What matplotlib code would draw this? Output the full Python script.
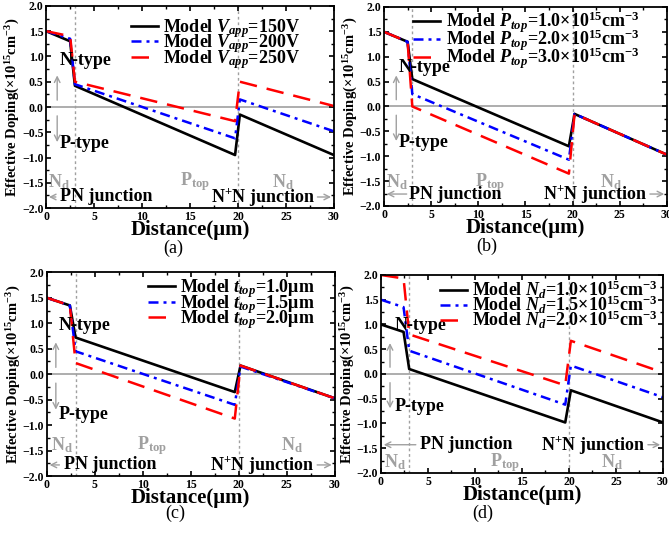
import matplotlib
matplotlib.use("Agg")
import matplotlib.pyplot as plt
from matplotlib.ticker import MultipleLocator

plt.rcParams['font.family'] = ['Liberation Serif', 'DejaVu Serif']
plt.rcParams['font.weight'] = 'bold'
plt.rcParams['axes.labelweight'] = 'bold'
plt.rcParams['mathtext.fontset'] = 'custom'
plt.rcParams['mathtext.rm'] = 'Liberation Serif:bold'
plt.rcParams['mathtext.it'] = 'Liberation Serif:bold:italic'
plt.rcParams['mathtext.bf'] = 'Liberation Serif:bold'

# distance breakpoints (um) and effective doping (x1e15 cm^-3)
dist_a = [0, 2.5, 3.0, 19.7, 20.2, 30]
vapp150 = [1.5, 1.3, 0.42, -0.95, -0.15, -0.95]
vapp200 = [1.5, 1.35, 0.45, -0.62, 0.15, -0.48]
vapp250 = [1.5, 1.4, 0.5, -0.28, 0.5, 0.02]

dist_b = [0, 2.5, 3.0, 19.6, 20.2, 30]
ptop10 = [1.5, 1.3, 0.55, -0.8, -0.15, -0.97]
ptop20 = [1.5, 1.3, 0.25, -1.07, -0.15, -0.97]
ptop30 = [1.5, 1.3, 0.0, -1.35, -0.15, -0.97]

dist_c = [0, 2.4, 3.0, 19.6, 20.2, 30]
ttop10 = [1.5, 1.35, 0.72, -0.35, 0.17, -0.47]
ttop15 = [1.5, 1.35, 0.45, -0.6, 0.15, -0.47]
ttop20 = [1.5, 1.35, 0.22, -0.87, 0.17, -0.47]

dist_d = [0, 2.4, 3.0, 19.6, 20.2, 30]
nd10 = [1.0, 0.85, 0.1, -0.98, -0.33, -0.98]
nd15 = [1.5, 1.35, 0.47, -0.62, 0.17, -0.47]
nd20 = [2.0, 1.93, 0.8, -0.23, 0.67, 0.03]

labels_a = [r'Model $V_{app}$=150V', r'Model $V_{app}$=200V', r'Model $V_{app}$=250V']
labels_b = [r'Model $P_{top}$=1.0×10$^{15}$cm$^{-3}$', r'Model $P_{top}$=2.0×10$^{15}$cm$^{-3}$',
            r'Model $P_{top}$=3.0×10$^{15}$cm$^{-3}$']
labels_c = [r'Model $t_{top}$=1.0μm', r'Model $t_{top}$=1.5μm', r'Model $t_{top}$=2.0μm']
labels_d = [r'Model $N_d$=1.0×10$^{15}$cm$^{-3}$', r'Model $N_d$=1.5×10$^{15}$cm$^{-3}$',
            r'Model $N_d$=2.0×10$^{15}$cm$^{-3}$']

gray = '#a0a0a0'
styles = [dict(color='black', ls='-', lw=1.9),
          dict(color='blue', ls=(0, (4, 2, 1.2, 2)), lw=1.8),
          dict(color='red', ls=(0, (7, 4)), lw=1.8)]

fig = plt.figure(figsize=(6.69, 5.35), dpi=100)


def panel(rect, x, ys, labels, cap, txt):
    ax = fig.add_axes(rect)
    for y, lab, st in zip(ys, labels, styles):
        ax.plot(x, y, label=lab, **st)
    ax.axhline(0, color=gray, lw=1.2, zorder=0)
    ax.axvline(3, color=gray, ls=(0, (2, 2)), lw=1, zorder=0)
    ax.axvline(20, color=gray, ls=(0, (2, 2)), lw=1, zorder=0)
    ax.set_xlim(0, 30)
    ax.set_ylim(-2, 2)
    ax.xaxis.set_major_locator(MultipleLocator(5))
    ax.xaxis.set_minor_locator(MultipleLocator(2.5))
    ax.yaxis.set_major_locator(MultipleLocator(0.5))
    ax.yaxis.set_minor_locator(MultipleLocator(0.25))
    ax.tick_params(which='both', direction='in', top=True, right=True, labelsize=8.5, pad=2)
    ax.tick_params(which='major', length=3.5, width=1.2)
    ax.tick_params(which='minor', length=2, width=1)
    for lbl in ax.get_xticklabels() + ax.get_yticklabels():
        lbl.set_fontweight('bold')
    for s in ax.spines.values():
        s.set_linewidth(1.3)
    ax.set_xlabel('Distance(μm)', fontsize=15, fontweight='bold', labelpad=-2)
    ax.set_ylabel(r'Effective Doping(×10$^{15}$cm$^{-3}$)', fontsize=10.5, fontweight='bold', labelpad=0)
    ax.legend(loc='upper right', bbox_to_anchor=txt['leg'], frameon=False,
              handlelength=1.5, labelspacing=-0.4, handletextpad=0.3, borderpad=0.1,
              prop=dict(size=13, weight='bold'))

    # type annotations
    nx, ny, px, py, axx = txt['type']
    ax.text(nx, ny, 'N-type', fontsize=13, va='center')
    ax.text(px, py, 'P-type', fontsize=13, va='center')
    ax.annotate('', xy=(axx, 0.68), xytext=(axx, 0.08),
                arrowprops=dict(arrowstyle='->', color=gray, lw=1))
    ax.annotate('', xy=(axx, -0.75), xytext=(axx, -0.12),
                arrowprops=dict(arrowstyle='->', color=gray, lw=1))

    # region labels
    for (tx, ty, s) in txt['regions']:
        ax.text(tx, ty, s, fontsize=13, color=gray, va='center')

    # junction labels with arrows
    pnx, pny, pna = txt['pn']
    ax.text(pnx, pny, 'PN junction', fontsize=13, va='center')
    ax.annotate('', xy=(0, pny), xytext=(pna, pny),
                arrowprops=dict(arrowstyle='->', color=gray, lw=1))
    nnx, nny, nna = txt['nn']
    ax.text(nnx, nny, r'N$^{+}$N junction', fontsize=13, va='center', ha='right')
    ax.annotate('', xy=(30, nny), xytext=(nna, nny),
                arrowprops=dict(arrowstyle='->', color=gray, lw=1))

    fig.text(cap[0] / 669, 1 - cap[1] / 535, cap[2], fontsize=13, fontweight='normal',
             ha='center', va='center')
    return ax


nd = r'N$_{\mathrm{d}}$'
pt = r'P$_{\mathrm{top}}$'

panel([0.069, 0.611, 0.430, 0.378], dist_a, [vapp150, vapp200, vapp250], labels_a,
      (173, 248, '(a)'),
      dict(leg=(0.92, 1.0),
           type=(1.4, 0.92, 1.4, -0.72, 1.15),
           regions=[(0.2, -1.48, nd), (14.0, -1.48, pt), (23.6, -1.48, nd)],
           pn=(1.4, -1.78, 1.3), nn=(28.0, -1.78, 28.0)))

panel([0.574, 0.615, 0.423, 0.372], dist_b, [ptop10, ptop20, ptop30], labels_b,
      (487, 246, '(b)'),
      dict(leg=(0.94, 1.04),
           type=(1.5, 0.78, 1.5, -0.73, 1.3),
           regions=[(0.2, -1.52, nd), (9.6, -1.52, pt), (22.9, -1.52, nd)],
           pn=(2.7, -1.76, 2.7), nn=(27.9, -1.76, 27.9)))

panel([0.070, 0.110, 0.430, 0.381], dist_c, [ttop10, ttop15, ttop20], labels_c,
      (175, 513, '(c)'),
      dict(leg=(0.97, 1.03),
           type=(1.2, 0.96, 1.2, -0.8, 0.94),
           regions=[(0.4, -1.4, nd), (9.4, -1.4, pt), (24.4, -1.4, nd)],
           pn=(1.8, -1.78, 1.6), nn=(27.9, -1.78, 27.9)))

panel([0.5695, 0.116, 0.4215, 0.370], dist_d, [nd10, nd15, nd20], labels_d,
      (483, 513, '(d)'),
      dict(leg=(1.02, 1.035),
           type=(1.5, 0.97, 1.5, -0.65, 0.96),
           regions=[(0.3, -1.78, nd), (11.6, -1.78, pt), (23.4, -1.78, nd)],
           pn=(4.2, -1.43, 4.0), nn=(28.1, -1.43, 28.1)))

fig.savefig('out.png', dpi=100)
